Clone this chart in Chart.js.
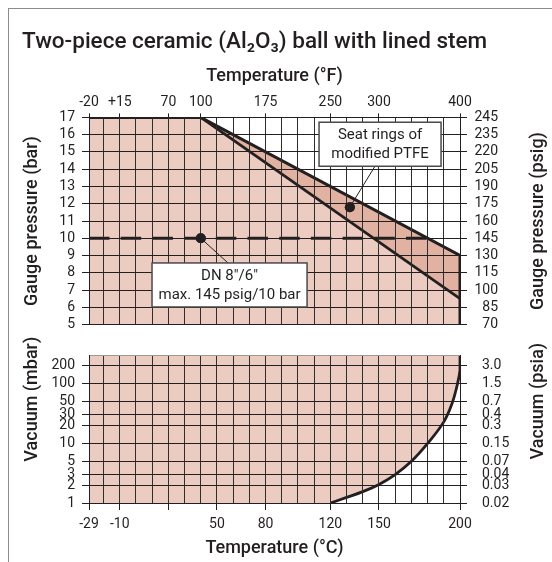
<!DOCTYPE html>
<html>
<head>
<meta charset="utf-8">
<title>Two-piece ceramic ball with lined stem</title>
<script src="https://cdn.jsdelivr.net/npm/chart.js@4.4.1/dist/chart.umd.min.js"></script>
<style>
  body { margin: 0; background: #fff; }
  #wrap { position: relative; width: 552px; height: 562px; overflow: hidden; }
  #frame { position: absolute; left: 8px; top: 8px; width: 560px; height: 570px;
           border-top: 1.5px solid #8c8c8c; border-left: 1.5px solid #8c8c8c; }
  #upper { position: absolute; left: 0; top: 0; }
  #lower { position: absolute; left: 0; top: 332px; }
</style>
</head>
<body>
<div id="wrap">
  <div id="frame"></div>
  <canvas id="upper" width="552" height="340"></canvas>
  <canvas id="lower" width="552" height="230"></canvas>
</div>
<script>
// temperature grid (°C) and axis labels
const gridTemps = [-29, -20, -10, 0, 10, 20, 30, 40, 50, 60, 70, 80, 90, 100, 110,
                   120, 130, 140, 150, 160, 170, 180, 190, 200];
const topTickTemps = [-29, -10, 20, 40, 80, 120, 150, 200];
const topTickLabels = ['-20', '+15', '70', '100', '175', '250', '300', '400'];
const bottomTickTemps = [-29, -10, 20, 50, 80, 120, 150, 200];
const bottomTickLabels = ['-29', '-10', '', '50', '80', '120', '150', '200'];

// pressure axes
const barTicks = [5, 6, 7, 8, 9, 10, 11, 12, 13, 14, 15, 16, 17];
const psigLabels = ['70', '85', '100', '115', '130', '145', '160', '175', '190', '205', '220', '235', '245'];
const mbarTicks = [1, 2, 3, 5, 10, 20, 30, 50, 100, 200, 300];
const mbarLabels = ['1', '2', '3', '5', '10', '20', '30', '50', '100', '200', ''];
const psiaLabels = ['0.02', '0.03', '0.04', '0.07', '0.15', '0.3', '0.4', '0.7', '1.5', '3.0', ''];

// gauge pressure limits
const limitTemps = [-29, 40, 200, 200];
const limitBar = [17, 17, 9, 5];
const ptfeTemps = [40, 200];
const ptfeBar = [17, 6.5];
const ptfeTopBar = [17, 9];
const dnTemps = [-29, 180];
const dnBar = [10, 10];
const markerTemps = [40, 132];
const markerBar = [10, 11.8];

// vacuum limit curve
const vacTemps = [120, 130, 140, 150, 160, 170, 180, 190, 195, 198, 200, 200];
const vacMbar = [1, 1.24, 1.55, 2.05, 3, 5, 10, 23, 46, 89, 170, 300];

const ink = '#231f20';
const gridInk = '#2e2e2e';
const lightFill = '#ecccc1';
const bandFill = '#e1b2a2';

Chart.defaults.font.family = "Roboto, 'Noto Sans', sans-serif";
Chart.defaults.color = ink;

const pts = (xs, ys) => xs.map((x, i) => ({ x: x, y: ys[i] }));
const tickIs = (list) => (c) => (c.tick && list.includes(c.tick.value)) ? ink : 'transparent';

// rotated side titles (both read bottom to top)
const sideTitles = {
  id: 'sideTitles',
  afterDraw(chart, args, opts) {
    const { ctx, chartArea } = chart;
    ctx.save();
    ctx.font = "500 18px Roboto, 'Noto Sans', sans-serif";
    ctx.fillStyle = ink;
    ctx.textAlign = 'center';
    ctx.textBaseline = 'middle';
    opts.items.forEach(t => {
      ctx.save();
      ctx.translate(t.x, (chartArea.top + chartArea.bottom) / 2 + (t.dy || 0));
      ctx.rotate(-Math.PI / 2);
      ctx.fillText(t.text, 0, 0);
      ctx.restore();
    });
    ctx.restore();
  }
};

// label boxes with leader lines
const callouts = {
  id: 'callouts',
  afterDraw(chart, args, opts) {
    const { ctx } = chart;
    const xs = chart.scales.x, ys = chart.scales.y;
    opts.items.forEach(c => {
      const dx = xs.getPixelForValue(markerTemps[c.marker]);
      const dy = ys.getPixelForValue(markerBar[c.marker]);
      const ax = xs.getPixelForValue(c.anchor[0]);
      const ay = ys.getPixelForValue(c.anchor[1]);
      ctx.save();
      ctx.strokeStyle = ink;
      ctx.lineWidth = 1;
      ctx.beginPath();
      ctx.moveTo(dx, dy);
      ctx.lineTo(ax, ay);
      ctx.stroke();
      ctx.fillStyle = ink;
      ctx.beginPath();
      ctx.arc(dx, dy, 5, 0, Math.PI * 2);
      ctx.fill();
      const l = xs.getPixelForValue(c.box[0]), r = xs.getPixelForValue(c.box[1]);
      const t = ys.getPixelForValue(c.box[2]), b = ys.getPixelForValue(c.box[3]);
      ctx.fillStyle = '#fff';
      ctx.fillRect(l, t, r - l, b - t);
      ctx.strokeStyle = '#4a4a4a';
      ctx.lineWidth = 1.5;
      ctx.strokeRect(l, t, r - l, b - t);
      ctx.fillStyle = ink;
      ctx.font = "15px Roboto, 'Noto Sans', sans-serif";
      ctx.textAlign = 'center';
      ctx.textBaseline = 'middle';
      c.lines.forEach((s, i) => ctx.fillText(s, (l + r) / 2, t + 13 + i * 19));
      ctx.restore();
    });
  }
};

new Chart(document.getElementById('upper'), {
  type: 'line',
  data: {
    datasets: [
      { label: 'markers', data: pts(markerTemps, markerBar), showLine: false,
        pointRadius: 5, pointBackgroundColor: ink, pointBorderWidth: 0, order: 0 },
      { label: 'DN 8"/6"', data: pts(dnTemps, dnBar), borderColor: ink, borderWidth: 3,
        borderDash: [20.5, 11.2], pointRadius: 0, fill: false, order: 1 },
      { label: 'PTFE', data: pts(ptfeTemps, ptfeBar), borderColor: ink, borderWidth: 2.8,
        pointRadius: 0, fill: false, order: 2 },
      { label: 'band', data: pts(ptfeTemps, ptfeTopBar), borderColor: 'transparent', borderWidth: 0,
        pointRadius: 0, fill: 2, backgroundColor: bandFill, order: 3 },
      { label: 'limit', data: pts(limitTemps, limitBar), borderColor: ink, borderWidth: 3,
        pointRadius: 0, fill: 'start', backgroundColor: lightFill, order: 4 }
    ]
  },
  options: {
    responsive: false,
    animation: false,
    layout: { padding: { left: 22, right: 54, top: 0, bottom: 11 } },
    plugins: {
      legend: { display: false },
      tooltip: { enabled: false },
      filler: { drawTime: 'beforeDatasetsDraw' },
      title: {
        display: true, align: 'start', color: ink,
        text: 'Two-piece ceramic (Al₂O₃) ball with lined stem',
        font: { size: 22.5, weight: '500' },
        padding: { top: 29, bottom: 5 }
      },
      sideTitles: { items: [
        { text: 'Gauge pressure (bar)', x: 32 },
        { text: 'Gauge pressure (psig)', x: 538 }
      ] },
      callouts: { items: [
        { marker: 1, lines: ['Seat rings of', 'modified PTFE'], box: [113, 188.3, 16.72, 14.17], anchor: [147.5, 14.17] },
        { marker: 0, lines: ['DN 8″/6″', 'max. 145 psig/10 bar'], box: [9.9, 105.6, 8.57, 6.02], anchor: [56.8, 8.57] }
      ] }
    },
    scales: {
      x: {
        type: 'linear', position: 'top', min: -29, max: 200,
        afterBuildTicks: a => { a.ticks = gridTemps.map(v => ({ value: v })); },
        afterFit: a => { a.height = 56.4; },
        ticks: {
          autoSkip: false, maxRotation: 0, padding: 3, font: { size: 14 }, color: ink,
          callback: v => { const i = topTickTemps.indexOf(v); return i < 0 ? '' : topTickLabels[i]; }
        },
        grid: { z: 1, color: gridInk, lineWidth: 1, tickLength: 4, tickColor: tickIs(topTickTemps) },
        border: { z: 1, color: ink, width: 1 },
        title: { display: true, text: 'Temperature (°F)', color: ink,
                 font: { size: 18, weight: '500' }, padding: { top: 5, bottom: 0 } }
      },
      y: {
        type: 'linear', position: 'left', min: 5, max: 17,
        afterBuildTicks: a => { a.ticks = barTicks.map(v => ({ value: v })); },
        afterFit: a => { a.width = 67; },
        ticks: { autoSkip: false, padding: 7, font: { size: 14 }, color: ink },
        grid: { z: 1, color: ink, lineWidth: 1, tickLength: 7, tickColor: ink },
        border: { z: 1, color: ink, width: 1 }
      },
      y2: {
        type: 'linear', position: 'right', min: 5, max: 17,
        afterBuildTicks: a => { a.ticks = barTicks.map(v => ({ value: v })); },
        afterFit: a => { a.width = 38; },
        ticks: { autoSkip: false, padding: 7, crossAlign: 'far', font: { size: 14 }, color: ink,
                 callback: v => psigLabels[barTicks.indexOf(v)] },
        grid: { z: 1, drawOnChartArea: false, color: ink, tickLength: 7, tickColor: ink },
        border: { z: 1, color: ink, width: 1 }
      }
    }
  },
  plugins: [sideTitles, callouts]
});

new Chart(document.getElementById('lower'), {
  type: 'line',
  data: {
    datasets: [
      { label: 'vacuum limit', data: pts(vacTemps, vacMbar), borderColor: ink, borderWidth: 2.8,
        pointRadius: 0, tension: 0.4, fill: false, order: 0 },
      { label: 'vacuum area', data: pts([gridTemps[0], ...vacTemps], [vacMbar[0], ...vacMbar]),
        borderColor: 'transparent', borderWidth: 0, pointRadius: 0, tension: 0.4,
        fill: 'end', backgroundColor: lightFill, order: 1 }
    ]
  },
  options: {
    responsive: false,
    animation: false,
    layout: { padding: { left: 22, right: 0, top: 11, bottom: 0 } },
    plugins: {
      legend: { display: false },
      tooltip: { enabled: false },
      title: { display: false },
      sideTitles: { items: [
        { text: 'Vacuum (mbar)', x: 32, dy: -30 },
        { text: 'Vacuum (psia)', x: 538, dy: -28 }
      ] }
    },
    scales: {
      x: {
        type: 'linear', position: 'bottom', min: -29, max: 200,
        afterBuildTicks: a => { a.ticks = gridTemps.map(v => ({ value: v })); },
        afterFit: a => { a.height = 59; },
        ticks: {
          autoSkip: false, maxRotation: 0, padding: 6, font: { size: 14 }, color: ink,
          callback: v => { const i = bottomTickTemps.indexOf(v); return i < 0 ? '' : bottomTickLabels[i]; }
        },
        grid: { z: 1, color: gridInk, lineWidth: 1, tickLength: 7, tickColor: tickIs(bottomTickTemps) },
        border: { z: 1, color: ink, width: 1 },
        title: { display: true, text: 'Temperature (°C)', color: ink,
                 font: { size: 18, weight: '500' }, padding: { top: 0, bottom: 3 } }
      },
      y: {
        type: 'logarithmic', position: 'left', min: 1, max: 300,
        afterBuildTicks: a => { a.ticks = mbarTicks.map(v => ({ value: v })); },
        afterFit: a => { a.width = 67; },
        ticks: { autoSkip: false, padding: 7, font: { size: 14 }, color: ink,
                 callback: v => mbarLabels[mbarTicks.indexOf(v)] },
        grid: { z: 1, color: c => (c.tick && c.tick.value === 300) ? '#9a9a9a' : ink, lineWidth: 1,
                tickLength: 7, tickColor: c => (c.tick && c.tick.value === 300) ? 'transparent' : ink },
        border: { z: 1, color: ink, width: 1 }
      },
      y2: {
        type: 'logarithmic', position: 'right', min: 1, max: 300,
        afterBuildTicks: a => { a.ticks = mbarTicks.map(v => ({ value: v })); },
        afterFit: a => { a.width = 92; },
        ticks: { autoSkip: false, padding: 15, font: { size: 14 }, color: ink,
                 callback: v => psiaLabels[mbarTicks.indexOf(v)] },
        grid: { z: 1, drawOnChartArea: false, color: ink, tickLength: 7,
                tickColor: c => (c.tick && c.tick.value === 300) ? 'transparent' : ink },
        border: { z: 1, color: ink, width: 1 }
      }
    }
  },
  plugins: [sideTitles]
});
</script>
</body>
</html>
